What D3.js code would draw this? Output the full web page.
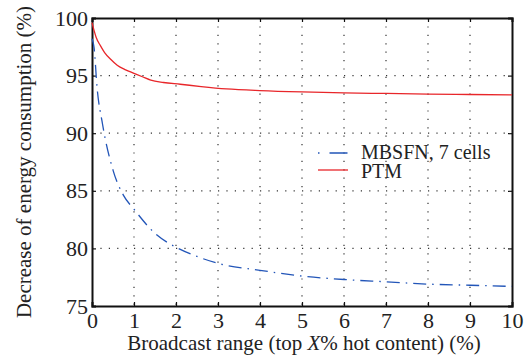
<!DOCTYPE html>
<html>
<head>
<meta charset="utf-8">
<script src="https://cdn.jsdelivr.net/npm/d3@7"></script>
<style>
  body { margin: 0; background: #fff; }
</style>
</head>
<body>
<div id="chart"></div>
<script>
// Values
const xTicks = [0, 1, 2, 3, 4, 5, 6, 7, 8, 9, 10];
const yTicks = [75, 80, 85, 90, 95, 100];

const mbsfnX = [0, 0.05, 0.12, 0.25, 0.5, 0.75, 1, 1.5, 2, 2.5, 3, 4, 5, 6, 7, 8, 9, 10];
const mbsfnY = [98.2, 97.4, 94.0, 90.8, 86.8, 84.6, 83.4, 81.3, 80.1, 79.3, 78.7, 78.1, 77.6, 77.3, 77.1, 76.9, 76.8, 76.7];

const ptmX = [0, 0.05, 0.1, 0.2, 0.3, 0.45, 0.6, 0.8, 1, 1.2, 1.4, 1.7, 2.1, 2.6, 3.2, 4, 5, 6, 7, 8, 9, 10];
const ptmY = [99.6, 98.9, 98.3, 97.6, 97.0, 96.4, 95.9, 95.5, 95.2, 94.9, 94.6, 94.4, 94.25, 94.05, 93.85, 93.7, 93.58, 93.5, 93.45, 93.4, 93.36, 93.32];

const FONT = "'Liberation Serif'";
const width = 524, height = 363;
const margin = { top: 18, right: 12, bottom: 57, left: 92 };
const iw = width - margin.left - margin.right;
const ih = height - margin.top - margin.bottom;

const svg = d3.select('#chart').append('svg')
  .attr('width', width)
  .attr('height', height);

const g = svg.append('g')
  .attr('transform', `translate(${margin.left},${margin.top})`);

const x = d3.scaleLinear().domain([0, 10]).range([0, iw]);
const y = d3.scaleLinear().domain([75, 100]).range([ih, 0]);

// dotted grid
g.append('g').selectAll('line')
  .data(xTicks.slice(1, -1))
  .join('line')
  .attr('x1', d => x(d)).attr('x2', d => x(d))
  .attr('y1', 0).attr('y2', ih)
  .style('stroke', '#333')
  .style('stroke-width', 1.2)
  .style('stroke-dasharray', '1.2,7.2');

g.append('g').selectAll('line')
  .data(yTicks.slice(1, -1))
  .join('line')
  .attr('x1', 0).attr('x2', iw)
  .attr('y1', d => y(d)).attr('y2', d => y(d))
  .style('stroke', '#333')
  .style('stroke-width', 1.2)
  .style('stroke-dasharray', '1.2,7.2');

// axes (box with inward ticks)
const axes = g.append('g');
axes.append('g')
  .attr('transform', `translate(0,${ih})`)
  .call(d3.axisBottom(x).tickValues(xTicks).tickSize(-4).tickPadding(6));
axes.append('g')
  .call(d3.axisLeft(y).tickValues(yTicks).tickSize(-4).tickPadding(4));
axes.append('g')
  .attr('transform', `translate(${iw},0)`)
  .call(d3.axisRight(y).tickValues(yTicks).tickSize(-4).tickFormat(''));
axes.append('g')
  .call(d3.axisTop(x).tickValues(xTicks).tickSize(-4).tickFormat(''));

axes.selectAll('.domain').style('stroke', '#111').style('stroke-width', 2);
axes.selectAll('.tick line').style('stroke', '#111').style('stroke-width', 1.2);
axes.selectAll('.tick text').style('font-size', '22px').style('fill', '#222');

// lines
const line = d3.line()
  .x(d => x(d[0]))
  .y(d => y(d[1]))
  .curve(d3.curveMonotoneX);

g.append('path')
  .datum(d3.zip(mbsfnX, mbsfnY))
  .attr('d', line)
  .style('fill', 'none')
  .style('stroke', '#2255b8')
  .style('stroke-width', 1.3)
  .style('stroke-dasharray', '13,6,1.5,6');

g.append('path')
  .datum(d3.zip(ptmX, ptmY))
  .attr('d', line)
  .style('fill', 'none')
  .style('stroke', '#e8262a')
  .style('stroke-width', 1.3);

// legend
const legend = g.append('g').attr('transform', `translate(${318 - margin.left},${153 - margin.top})`);
legend.append('line')
  .attr('x1', 0).attr('x2', 30).attr('y1', 0).attr('y2', 0)
  .style('stroke', '#2255b8').style('stroke-width', 1.3)
  .style('stroke-dasharray', '1.5,10,18,6');
legend.append('text').attr('x', 43).attr('y', 6)
  .style('font-size', '20px').style('fill', '#222').text('MBSFN, 7 cells');
legend.append('line')
  .attr('x1', 0).attr('x2', 30).attr('y1', 17).attr('y2', 17)
  .style('stroke', '#e8262a').style('stroke-width', 1.3);
legend.append('text').attr('x', 43).attr('y', 25)
  .style('font-size', '20px').style('fill', '#222').text('PTM');

// axis titles
const xt = svg.append('text')
  .attr('x', margin.left + iw / 2 + 2)
  .attr('y', 350)
  .attr('text-anchor', 'middle')
  .style('font-size', '21px')
  .style('fill', '#222');
xt.append('tspan').text('Broadcast range (top ');
xt.append('tspan').style('font-style', 'italic').text('X');
xt.append('tspan').text('% hot content) (%)');

svg.append('text')
  .attr('transform', `translate(31,${margin.top + ih / 2}) rotate(-90)`)
  .attr('text-anchor', 'middle')
  .style('font-size', '21px')
  .style('fill', '#222')
  .text('Decrease of energy consumption (%)');

svg.selectAll('text').style('font-family', FONT);
</script>
</body>
</html>
